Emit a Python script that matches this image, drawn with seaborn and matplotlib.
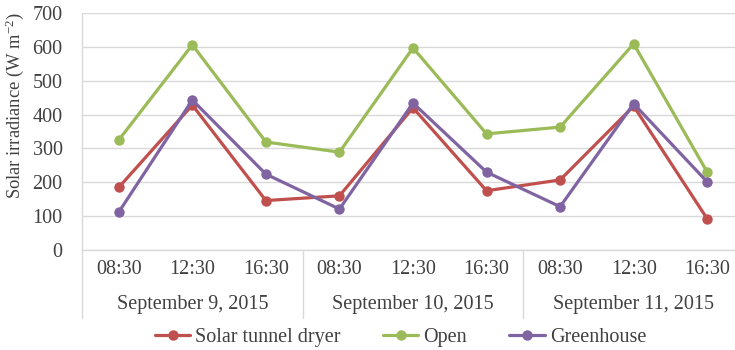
import matplotlib
matplotlib.use("Agg")
import matplotlib.pyplot as plt
import matplotlib.transforms as mtransforms
import seaborn as sns
import pandas as pd
import numpy as np

# Hourly readings over three days
days = ["September 9, 2015", "September 10, 2015", "September 11, 2015"]
times = ["08:30", "12:30", "16:30"]
series_names = ["Solar tunnel dryer", "Open", "Greenhouse"]
tunnel_dryer = [185, 428, 146, 160, 420, 175, 207, 425, 92]
open_air = [325, 606, 319, 289, 597, 343, 363, 609, 230]
greenhouse = [112, 443, 224, 121, 434, 230, 128, 432, 201]
yticks = [0, 100, 200, 300, 400, 500, 600, 700]

colors = {"Solar tunnel dryer": "#C0504D", "Open": "#9BBB59", "Greenhouse": "#8064A2"}
text_color = "#404040"
grid_color = "#D9D9D9"
fs = 14.5

n = len(days) * len(times)
idx = np.arange(n)
df = pd.DataFrame({
    "pos": np.tile(idx, 3),
    "value": tunnel_dryer + open_air + greenhouse,
    "series": np.repeat(series_names, n),
})

sns.set_style("white")
plt.rcParams["font.family"] = ["Liberation Serif", "DejaVu Serif"]
plt.rcParams["font.size"] = fs
plt.rcParams["mathtext.fontset"] = "custom"
plt.rcParams["mathtext.rm"] = "Liberation Serif"
plt.rcParams["mathtext.it"] = "Liberation Serif:italic"

fig = plt.figure(figsize=(7.35, 3.5), dpi=100)
ax = fig.add_axes([82 / 735, 100 / 350, 662 / 735, 237 / 350])

sns.lineplot(data=df, x="pos", y="value", hue="series", hue_order=series_names,
             palette=colors, marker="o", markersize=7.5, linewidth=2.3,
             markeredgewidth=0, ax=ax, legend=True)

ax.set_xlim(-0.5, n - 0.5)
ax.set_ylim(0, 700)
ax.set_yticks(yticks)
ax.set_yticklabels([str(v) for v in yticks], color=text_color, fontsize=fs)
ax.set_xticks(idx)
ax.set_xticklabels(times * len(days), color=text_color, fontsize=fs)
ax.tick_params(axis="both", length=0)
ax.tick_params(axis="y", pad=14)
ax.tick_params(axis="x", pad=7)
ax.set_xlabel("")
ax.set_ylabel(r"Solar irradiance (W m$^{\mathrm{-2}}$)", color=text_color, fontsize=13.3)
ax.yaxis.set_label_coords(-0.085, 0.61)

ax.yaxis.grid(True, color=grid_color, linewidth=1)
ax.set_axisbelow(True)
for side in ["top", "right", "left"]:
    ax.spines[side].set_visible(False)
ax.spines["bottom"].set_color(grid_color)
ax.spines["bottom"].set_linewidth(1)

# Day group labels and separators below the axis
trans = mtransforms.blended_transform_factory(ax.transData, ax.transAxes)
for i, day in enumerate(days):
    ax.text(i * 3 + 1, -0.23, day, transform=trans, ha="center", va="center",
            color=text_color, fontsize=fs)
for b in range(len(days) + 1):
    ax.plot([b * 3 - 0.5, b * 3 - 0.5], [0, -0.287], transform=trans,
            color=grid_color, linewidth=1, clip_on=False)
ax.plot([-0.5, -0.5], [0, 1], transform=trans, color=grid_color, linewidth=1, clip_on=False)

handles, labels = ax.get_legend_handles_labels()
ax.get_legend().remove()
leg = fig.legend(handles, labels, loc="center", bbox_to_anchor=(0.545, 0.037),
                 ncol=3, frameon=False, handlelength=1.75, handletextpad=0.25,
                 columnspacing=2.1, fontsize=fs)
for t in leg.get_texts():
    t.set_color(text_color)

fig.savefig("out.png", dpi=100)
